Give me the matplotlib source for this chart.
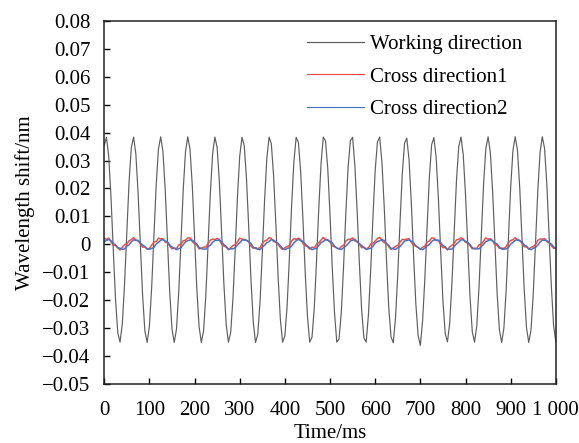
import matplotlib

matplotlib.use('Agg')

import numpy as np
import matplotlib.pyplot as plt

# sampled every 5 ms, values in nm
step_ms = 5

working = [
    0.0354, 0.0383, 0.0315, 0.0169, -0.0018, -0.0195, -0.0316, -0.0350, -0.0286, -0.0142, 0.0044, 0.0223,
    0.0347, 0.0384, 0.0324, 0.0183, -0.0002, -0.0182, -0.0310, -0.0351, -0.0294, -0.0156, 0.0028, 0.0210,
    0.0340, 0.0385, 0.0332, 0.0197, 0.0013, -0.0169, -0.0302, -0.0351, -0.0303, -0.0170, 0.0012, 0.0197,
    0.0332, 0.0385, 0.0340, 0.0210, 0.0027, -0.0156, -0.0294, -0.0351, -0.0310, -0.0182, -0.0002, 0.0183,
    0.0324, 0.0384, 0.0347, 0.0223, 0.0044, -0.0142, -0.0286, -0.0350, -0.0316, -0.0195, -0.0018, 0.0169,
    0.0315, 0.0383, 0.0354, 0.0235, 0.0059, -0.0128, -0.0278, -0.0351, -0.0322, -0.0206, -0.0032, 0.0155,
    0.0306, 0.0384, 0.0360, 0.0247, 0.0074, -0.0114, -0.0268, -0.0350, -0.0328, -0.0220, -0.0048, 0.0140,
    0.0296, 0.0383, 0.0365, 0.0260, 0.0090, -0.0099, -0.0258, -0.0350, -0.0333, -0.0231, -0.0063, 0.0126,
    0.0286, 0.0384, 0.0370, 0.0271, 0.0105, -0.0085, -0.0247, -0.0350, -0.0338, -0.0242, -0.0078, 0.0111,
    0.0275, 0.0371, 0.0383, 0.0282, 0.0120, -0.0069, -0.0235, -0.0335, -0.0350, -0.0253, -0.0093, 0.0096,
    0.0265, 0.0367, 0.0384, 0.0292, 0.0134, -0.0055, -0.0225, -0.0331, -0.0352, -0.0263, -0.0107, 0.0081,
    0.0253, 0.0362, 0.0380, 0.0302, 0.0148, -0.0040, -0.0213, -0.0325, -0.0362, -0.0273, -0.0121, 0.0066,
    0.0241, 0.0357, 0.0382, 0.0311, 0.0163, -0.0025, -0.0201, -0.0319, -0.0349, -0.0282, -0.0136, 0.0051,
    0.0229, 0.0350, 0.0384, 0.0320, 0.0177, -0.0009, -0.0188, -0.0313, -0.0350, -0.0291, -0.0149, 0.0036,
    0.0216, 0.0343, 0.0385, 0.0329, 0.0190, 0.0006, -0.0175, -0.0306, -0.0351, -0.0299, -0.0163, 0.0020,
    0.0203, 0.0336, 0.0385, 0.0337, 0.0204, 0.0021, -0.0162, -0.0298, -0.0351, -0.0306, -0.0177, 0.0005,
    0.0189, 0.0328, 0.0385, 0.0344, 0.0217, 0.0037, -0.0148, -0.0290, -0.0350,
]

cross1 = [
    0.0022, 0.0018, 0.0022, 0.0009, -0.0003, -0.0004, -0.0012, -0.0020, -0.0010, -0.0001, 0.0002, 0.0013,
    0.0017, 0.0024, 0.0014, 0.0013, 0.0003, -0.0010, -0.0009, -0.0016, -0.0015, -0.0003, 0.0008, 0.0010,
    0.0022, 0.0020, 0.0020, 0.0008, 0.0006, -0.0005, -0.0016, -0.0013, -0.0015, -0.0002, 0.0000, 0.0013,
    0.0015, 0.0023, 0.0023, 0.0010, 0.0003, -0.0002, -0.0016, -0.0014, -0.0010, -0.0009, 0.0004, 0.0015,
    0.0019, 0.0017, 0.0021, 0.0016, 0.0001, -0.0006, -0.0010, -0.0019, -0.0012, -0.0004, -0.0001, 0.0009,
    0.0022, 0.0019, 0.0017, 0.0015, 0.0009, -0.0006, -0.0014, -0.0012, -0.0015, -0.0012, 0.0004, 0.0012,
    0.0015, 0.0024, 0.0021, 0.0010, 0.0008, 0.0001, -0.0012, -0.0018, -0.0012, -0.0008, -0.0004, 0.0012,
    0.0020, 0.0018, 0.0022, 0.0017, 0.0003, -0.0004, -0.0008, -0.0017, -0.0010, -0.0012, 0.0000, 0.0006,
    0.0015, 0.0025, 0.0017, 0.0016, 0.0010, -0.0006, -0.0008, -0.0013, -0.0017, -0.0007, -0.0004, 0.0012,
    0.0018, 0.0018, 0.0023, 0.0012, 0.0009, 0.0001, -0.0012, -0.0010, -0.0016, -0.0012, 0.0001, 0.0004,
    0.0012, 0.0021, 0.0025, 0.0014, 0.0006, 0.0003, -0.0008, -0.0018, -0.0013, -0.0007, -0.0004, 0.0008,
    0.0018, 0.0017, 0.0019, 0.0020, 0.0008, -0.0004, -0.0006, -0.0011, -0.0018, -0.0010, -0.0006, 0.0009,
    0.0012, 0.0023, 0.0022, 0.0014, 0.0014, -0.0001, -0.0012, -0.0011, -0.0020, -0.0009, -0.0003, 0.0004,
    0.0016, 0.0018, 0.0023, 0.0019, 0.0007, 0.0005, -0.0005, -0.0016, -0.0014, -0.0014, -0.0001, 0.0001,
    0.0012, 0.0023, 0.0018, 0.0020, 0.0013, -0.0002, -0.0003, -0.0014, -0.0013, -0.0015, -0.0008, 0.0006,
    0.0014, 0.0017, 0.0024, 0.0015, 0.0015, 0.0004, -0.0009, -0.0008, -0.0017, -0.0011, -0.0008, -0.0001,
    0.0014, 0.0019, 0.0019, 0.0021, 0.0010, 0.0006, -0.0004, -0.0014, -0.0014,
]

cross2 = [
    0.0010, 0.0014, 0.0018, 0.0013, 0.0004, -0.0002, -0.0012, -0.0014, -0.0018, -0.0016, -0.0007, -0.0002,
    0.0009, 0.0016, 0.0015, 0.0014, 0.0005, -0.0002, -0.0008, -0.0017, -0.0017, -0.0015, -0.0011, 0.0001,
    0.0007, 0.0015, 0.0017, 0.0012, 0.0009, -0.0002, -0.0010, -0.0014, -0.0019, -0.0015, -0.0012, -0.0001,
    0.0009, 0.0013, 0.0016, 0.0015, 0.0007, 0.0002, -0.0011, -0.0015, -0.0017, -0.0017, -0.0008, -0.0003,
    0.0007, 0.0014, 0.0014, 0.0016, 0.0009, -0.0001, -0.0007, -0.0017, -0.0016, -0.0016, -0.0012, -0.0002,
    0.0005, 0.0015, 0.0016, 0.0014, 0.0010, 0.0003, -0.0010, -0.0014, -0.0018, -0.0019, -0.0010, -0.0003,
    0.0006, 0.0010, 0.0017, 0.0015, 0.0009, 0.0003, -0.0005, -0.0015, -0.0019, -0.0015, -0.0012, -0.0006,
    0.0005, 0.0013, 0.0018, 0.0013, 0.0011, 0.0001, -0.0006, -0.0012, -0.0019, -0.0016, -0.0015, -0.0004,
    0.0006, 0.0010, 0.0017, 0.0015, 0.0009, 0.0005, -0.0007, -0.0013, -0.0016, -0.0018, -0.0012, -0.0006,
    0.0002, 0.0012, 0.0015, 0.0018, 0.0010, 0.0002, -0.0004, -0.0012, -0.0018, -0.0016, -0.0014, -0.0007,
    0.0004, 0.0010, 0.0013, 0.0017, 0.0014, 0.0003, -0.0004, -0.0014, -0.0016, -0.0018, -0.0012, -0.0008,
    0.0002, 0.0012, 0.0014, 0.0016, 0.0011, 0.0006, -0.0006, -0.0011, -0.0017, -0.0019, -0.0013, -0.0005,
    -0.0001, 0.0010, 0.0016, 0.0015, 0.0015, 0.0006, -0.0004, -0.0009, -0.0018, -0.0017, -0.0017, -0.0008,
    0.0002, 0.0008, 0.0016, 0.0016, 0.0011, 0.0007, -0.0001, -0.0012, -0.0016, -0.0016, -0.0016, -0.0008,
    0.0000, 0.0010, 0.0013, 0.0017, 0.0012, 0.0005, 0.0001, -0.0010, -0.0017, -0.0017, -0.0016, -0.0011,
    0.0001, 0.0007, 0.0014, 0.0017, 0.0012, 0.0009, -0.0002, -0.0007, -0.0016, -0.0019, -0.0014, -0.0011,
    -0.0003, 0.0008, 0.0015, 0.0015, 0.0014, 0.0006, 0.0001, -0.0009, -0.0014,
]

labels = ['Working direction', 'Cross direction1', 'Cross direction2']
colors = ['#5e5e5e', '#ec4d4a', '#4673c4']
widths = [0.85, 1.1, 1.1]

x_ticks = [0, 100, 200, 300, 400, 500, 600, 700, 800, 900, 1000]
x_tick_labels = ['0', '100', '200', '300', '400', '500', '600', '700', '800', '900', '1 000']
y_ticks = [0.08, 0.07, 0.06, 0.05, 0.04, 0.03, 0.02, 0.01, 0, -0.01, -0.02, -0.03, -0.04, -0.05]
y_tick_labels = ['0.08', '0.07', '0.06', '0.05', '0.04', '0.03', '0.02', '0.01', '0',
                 '\u22120.01', '\u22120.02', '\u22120.03', '\u22120.04', '\u22120.05']

plt.rcParams['font.family'] = 'Liberation Serif'
plt.rcParams['font.size'] = 15

time_ms = np.arange(len(working)) * step_ms

fig = plt.figure(figsize=(5.79, 4.43), dpi=100)
ax = fig.add_axes([0.18, 0.133, 0.78, 0.82])

for series, label, color, lw in zip([working, cross1, cross2], labels, colors, widths):
    ax.plot(time_ms, series, '-', color=color, lw=lw, label=label)

ax.set_xlim(0, 1000)
ax.set_ylim(-0.05, 0.08)
ax.set_xticks(x_ticks)
ax.set_xticklabels(x_tick_labels)
ax.set_yticks(y_ticks)
ax.set_yticklabels(y_tick_labels)
ax.tick_params(direction='in', length=4.5, width=1.0, top=False, right=False)
ax.tick_params(axis='x', pad=12)
ax.tick_params(axis='y', pad=10)
for s in ax.spines.values():
    s.set_linewidth(1.1)
    s.set_color('#222222')

ax.set_xlabel('Time/ms', labelpad=3)
ax.set_ylabel('Wavelength shift/nm', labelpad=5)

leg = ax.legend(loc='upper left', frameon=False, handlelength=2.75, handletextpad=0.3,
                labelspacing=0.62, borderaxespad=0.0, bbox_to_anchor=(0.43, 0.985))
for line in leg.get_lines():
    line.set_linewidth(0.85)

fig.savefig('out.png', dpi=100)
